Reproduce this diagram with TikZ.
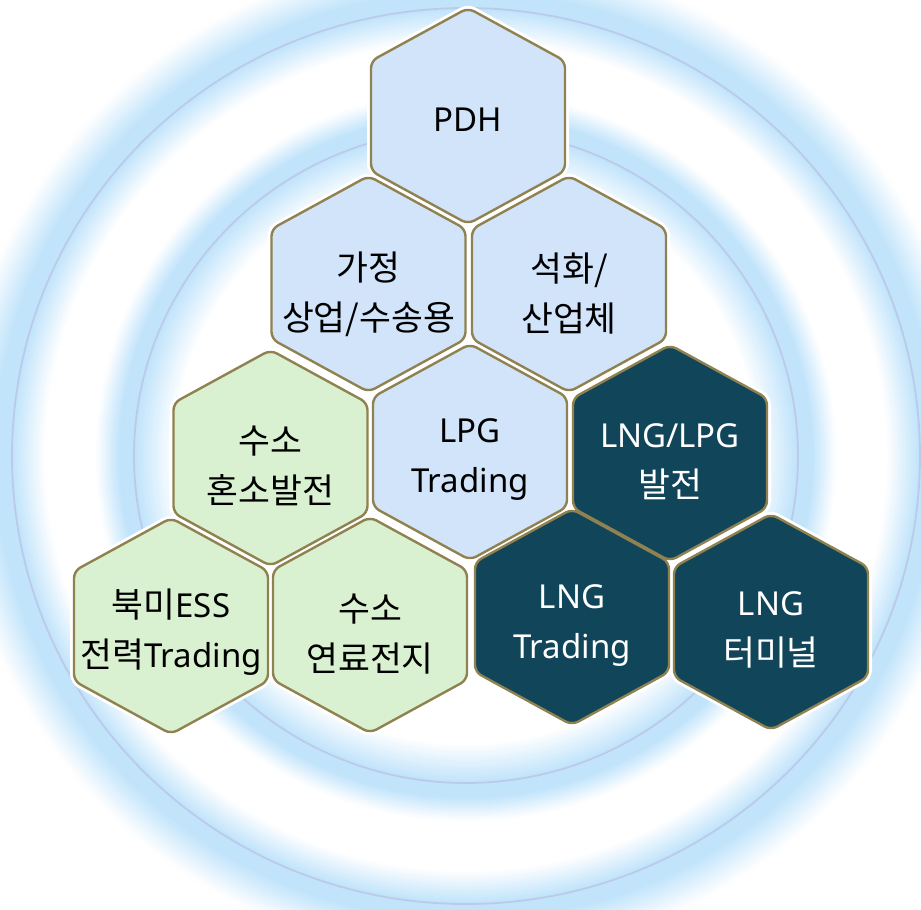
\documentclass[tikz,border=0pt]{standalone}
\usepackage{fontspec}
\setmainfont{Noto Sans}
\newfontfamily\kr[Scale=1.05]{Noto Sans CJK KR}

\definecolor{hexblue}{RGB}{209,228,250}
\definecolor{hexgreen}{RGB}{217,241,208}
\definecolor{hexdark}{RGB}{17,69,90}
\definecolor{hexedge}{RGB}{143,130,80}
\definecolor{ringline}{RGB}{188,202,234}
\definecolor{glowblue}{RGB}{194,228,251}

\tikzset{
  gapline/.style={draw=white, line width=8pt, rounded corners=7pt},
  hexcell/.style={draw=hexedge, line width=2.4pt, rounded corners=7pt},
  ring/.style={draw=ringline, line width=1.8pt},
  lbl/.style={align=center, text=black, font=\fontsize{33}{50}\selectfont, inner sep=0pt},
  lblw/.style={lbl, text=white},
}

\begin{document}
\begin{tikzpicture}[x=1pt,y=-1pt]
\useasboundingbox (0,0) rectangle (921,910);
\clip (0,0) rectangle (921,910);
\fill[white] (0,0) rectangle (921,910);

% soft glow bands made of concentric strokes
\foreach \r in {288,290,...,508}{
  \pgfmathtruncatemacro\p{max(0,min(100,(\r-290)/38*100,(368-\r)/23*100))+max(0,min(100,(\r-418)/32*100,(505-\r)/37*100))}
  \ifnum\p>0
    \draw[draw=glowblue!\p!white, line width=2.8pt] (466,456) ellipse [x radius=\r*1.007, y radius=\r*0.993];
  \fi
}

\draw[ring] (466,456) ellipse [x radius=454, y radius=448];
\draw[ring] (466,456) ellipse [x radius=332, y radius=327];

% white gaps under the cells
\foreach \cx/\cy in {468/116, 368.5/284, 569/284, 470/452, 270.5/458, 171/626, 370/625, 670/453, 572/617, 771/622}
  \draw[gapline] (\cx,\cy-108) -- (\cx+97,\cy-55) -- (\cx+97,\cy+55) -- (\cx,\cy+108) -- (\cx-97,\cy+55) -- (\cx-97,\cy-55) -- cycle;

% cells
\foreach \cx/\cy/\fc in {468/116/hexblue, 368.5/284/hexblue, 569/284/hexblue, 470/452/hexblue, 270.5/458/hexgreen, 171/626/hexgreen, 370/625/hexgreen, 670/453/hexdark, 572/617/hexdark, 771/622/hexdark}
  \draw[hexcell, fill=\fc] (\cx,\cy-108) -- (\cx+97,\cy-55) -- (\cx+97,\cy+55) -- (\cx,\cy+108) -- (\cx-97,\cy+55) -- (\cx-97,\cy-55) -- cycle;

% labels
\node[lbl] (pdh) at (468,120) {PDH};
\node[lbl] (home) at (368.5,294) {{\kr 가정}\\{\kr 상업/수송용}};
\node[lbl] (petro) at (569,294) {{\kr 석화/}\\{\kr 산업체}};
\node[lbl] (lpgtr) at (470,460) {LPG\\Trading};
\node[lbl] (h2mix) at (270.5,466) {{\kr 수소}\\{\kr 혼소발전}};
\node[lbl] (ess) at (171,632) {{\kr 북미}ESS\\{\kr 전력}Trading};
\node[lbl] (fuelcell) at (370,634) {{\kr 수소}\\{\kr 연료전지}};
\node[lblw] (lngpow) at (670,462) {LNG/LPG\\{\kr 발전}};
\node[lblw] (lngtr) at (572,626) {LNG\\Trading};
\node[lblw] (lngterm) at (771,630) {LNG\\{\kr 터미널}};
\end{tikzpicture}
\end{document}
